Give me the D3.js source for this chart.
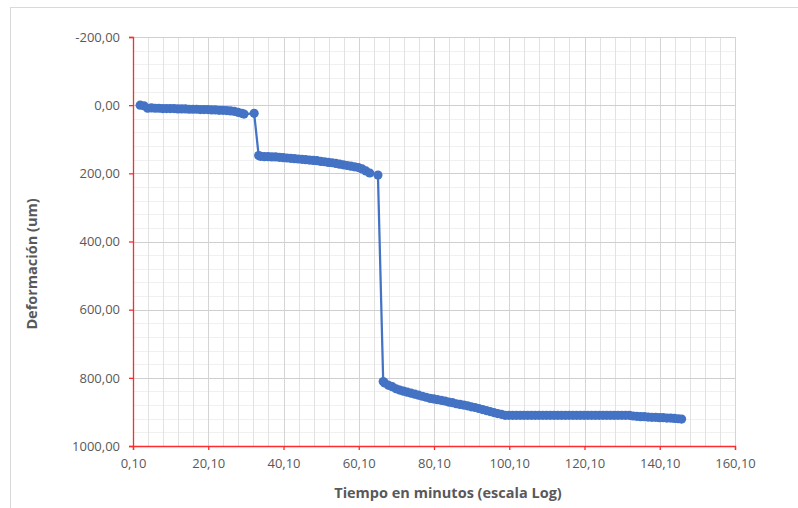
<!DOCTYPE html>
<html>
<head>
<meta charset="utf-8">
<script src="https://cdn.jsdelivr.net/npm/d3@7"></script>
<style>
  body { margin: 0; background: #fff; }
  svg { display: block; font-family: "Open Sans", sans-serif; }
</style>
</head>
<body>
<div id="chart"></div>
<script>
// Tiempo (min) vs. deformación (um).
const tiempo = [
  2, 3, 4, 5, 6, 7, 8, 9, 10, 11, 12, 13, 14, 15, 16, 17, 18, 19, 20,
  21, 22, 23, 24, 25, 26, 27, 28, 29, 29.6, 32.3,
  33.5, 34, 35, 36, 37, 38, 39, 40, 41, 42, 43, 44, 45, 46, 47, 48, 49, 50,
  51, 52, 53, 54, 55, 56, 57, 58, 59, 60, 61, 62, 63, 65.2,
  66.6, 67, 68, 69, 70, 71, 72, 73, 74, 75, 76, 77, 78, 79, 80, 81, 82, 83,
  84, 85, 86, 87, 88, 89, 90, 91, 92, 93, 94, 95, 96, 97, 98,
  99, 100, 101, 102, 103, 104, 105, 106, 107, 108, 109, 110, 111, 112, 113,
  114, 115, 116, 117, 118, 119, 120, 121, 122, 123, 124, 125, 126, 127, 128,
  129, 130, 131, 132, 133, 134, 135, 136, 137, 138, 139, 140, 141, 142, 143,
  144, 145, 145.9
];
const deformacion = [
  0, 2, 9, 8, 9, 9, 10, 10, 10, 10, 11, 11, 11, 12, 12, 12, 13, 13, 13,
  14, 14, 15, 15, 16, 17, 18, 21, 24, 26, 24,
  148, 150, 151, 151, 152, 152, 153, 154, 155, 156, 157, 158, 159, 160, 161, 162, 163, 165,
  166, 168, 169, 171, 173, 175, 177, 179, 181, 183, 187, 193, 199, 205,
  811, 815, 822, 826, 832, 836, 839, 842, 845, 848, 851, 854, 857, 860, 862, 864, 866, 868,
  871, 873, 876, 878, 880, 882, 885, 887, 890, 893, 896, 899, 902, 905, 907,
  910, 910, 910, 910, 910, 910, 910, 910, 910, 910, 910, 910, 910, 910, 910,
  910, 910, 910, 910, 910, 910, 910, 910, 910, 910, 910, 910, 910, 910, 910,
  910, 910, 910, 910, 912, 913, 914, 914, 915, 916, 916, 917, 917, 918, 918,
  919, 920, 921
];
const xTicks = [0.1, 20.1, 40.1, 60.1, 80.1, 100.1, 120.1, 140.1, 160.1];
const yTicks = [-200, 0, 200, 400, 600, 800, 1000];
const xMinor = d3.range(0.1, 160.2, 4);
const yMinor = d3.range(-200, 1001, 40);

const data = tiempo.map((t, i) => ({ t: t, d: deformacion[i] }));

const W = 798, H = 508;
const margin = { top: 37, right: 63, bottom: 62, left: 133 };
const width = W - margin.left - margin.right,
      height = H - margin.top - margin.bottom;

const fmt = d3.formatLocale({ decimal: ",", thousands: ".", grouping: [3], currency: ["", ""], minus: "-" }).format(".2f");

const svg = d3.select("#chart").append("svg")
    .attr("width", W)
    .attr("height", H);

// Chart area border.
svg.append("rect")
    .attr("x", 10.5).attr("y", 7.5)
    .attr("width", W + 10).attr("height", H + 10)
    .attr("fill", "#fff")
    .attr("stroke", "#d9d9d9");

const g = svg.append("g")
    .attr("transform", `translate(${margin.left},${margin.top})`);

const x = d3.scaleLinear().domain([0.1, 160.1]).range([0, width]);
const y = d3.scaleLinear().domain([-200, 1000]).range([0, height]);

// Minor gridlines.
g.append("g").selectAll("line").data(yMinor).join("line")
    .attr("x1", 0).attr("x2", width)
    .attr("y1", d => Math.round(y(d)) + 0.5).attr("y2", d => Math.round(y(d)) + 0.5)
    .attr("stroke", "#f0f0f0");
g.append("g").selectAll("line").data(xMinor).join("line")
    .attr("y1", 0).attr("y2", height)
    .attr("x1", d => Math.round(x(d)) + 0.5).attr("x2", d => Math.round(x(d)) + 0.5)
    .attr("stroke", "#e2e2e2");

// Major gridlines.
g.append("g").selectAll("line").data(yTicks).join("line")
    .attr("x1", 0).attr("x2", width)
    .attr("y1", d => Math.round(y(d)) + 0.5).attr("y2", d => Math.round(y(d)) + 0.5)
    .attr("stroke", "#cfcfcf");
g.append("g").selectAll("line").data(xTicks).join("line")
    .attr("y1", 0).attr("y2", height)
    .attr("x1", d => Math.round(x(d)) + 0.5).attr("x2", d => Math.round(x(d)) + 0.5)
    .attr("stroke", "#d4d4d4");

// Axes.
const xAxis = g.append("g")
    .attr("transform", `translate(0,${height})`)
    .call(d3.axisBottom(x).tickValues(xTicks).tickFormat(fmt).tickSize(4).tickPadding(9));
const yAxis = g.append("g")
    .call(d3.axisLeft(y).tickValues(yTicks).tickFormat(fmt).tickSize(4).tickPadding(9));

[xAxis, yAxis].forEach(a => {
  a.select(".domain").attr("stroke", "#ff2a2a").attr("stroke-width", 1.3);
  a.selectAll(".tick line").attr("stroke", "#ff2a2a").attr("stroke-width", 1.3);
  a.selectAll(".tick text")
      .attr("fill", "#595959")
      .style("font-size", "13px")
      .style("font-family", "'Open Sans', sans-serif");
});

// Series.
const line = d3.line().x(d => x(d.t)).y(d => y(d.d));
g.append("path")
    .datum(data)
    .attr("fill", "none")
    .attr("stroke", "#4472c4")
    .attr("stroke-width", 2.25)
    .attr("d", line);
g.append("g").selectAll("circle").data(data).join("circle")
    .attr("cx", d => x(d.t))
    .attr("cy", d => y(d.d))
    .attr("r", 4.6)
    .attr("fill", "#4472c4");

// Axis titles.
svg.append("text")
    .attr("x", 448).attr("y", 498)
    .attr("text-anchor", "middle")
    .attr("fill", "#595959")
    .style("font-size", "14.5px")
    .style("font-weight", "bold")
    .text("Tiempo en minutos (escala Log)");
svg.append("text")
    .attr("transform", "translate(37,264) rotate(-90)")
    .attr("text-anchor", "middle")
    .attr("fill", "#595959")
    .style("font-size", "14.5px")
    .style("font-weight", "bold")
    .text("Deformación (um)");
</script>
</body>
</html>
